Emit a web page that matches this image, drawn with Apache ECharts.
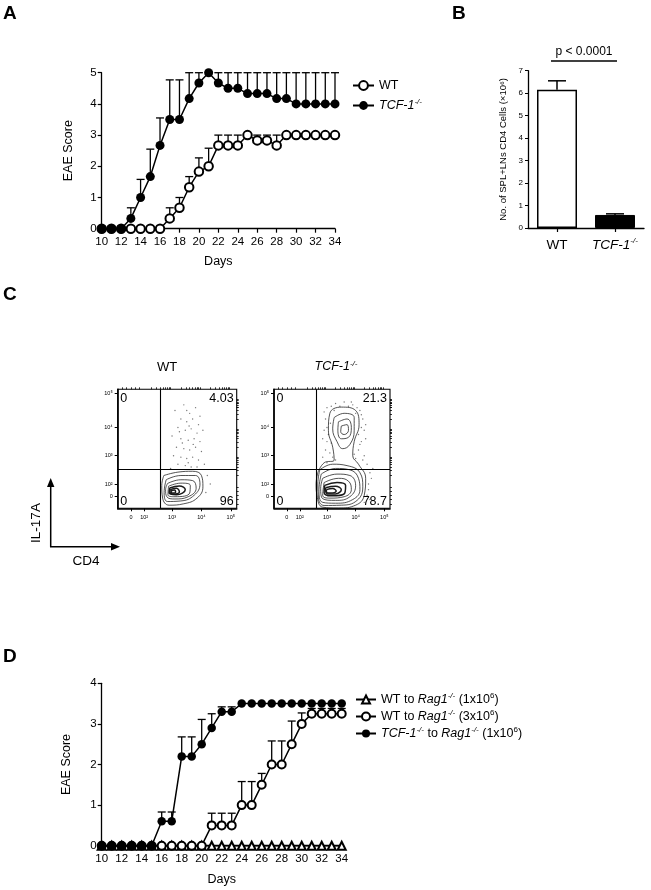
<!DOCTYPE html>
<html><head><meta charset="utf-8">
<script src="https://cdn.jsdelivr.net/npm/echarts@6/dist/echarts.min.js"></script>
<style>html,body{margin:0;padding:0;background:#fff}#c{width:651px;height:890px}</style>
</head><body><div id="c"></div>
<script>
const FONT = '"Liberation Sans", Arial, Helvetica, sans-serif';

// ---------- Panel A data ----------
const daysA = [10,11,12,13,14,15,16,17,18,19,20,21,22,23,24,25,26,27,28,29,30,31,32,33,34];
const aWT    = [0,0,0,0,0,0,0,0.33,0.67,1.33,1.83,2.0,2.67,2.67,2.67,3.0,2.83,2.83,2.67,3,3,3,3,3,3];
const aWTHi  = [null,null,null,null,null,null,null,0.67,1.0,1.67,2.27,2.58,3,3,3,null,3,3,3,null,null,null,null,null,null];
const aTCF   = [0,0,0,0.33,1.0,1.67,2.67,3.5,3.5,4.17,4.67,5.0,4.67,4.5,4.5,4.33,4.33,4.33,4.17,4.17,4,4,4,4,4];
const aTCFHi = [null,null,null,0.67,1.58,2.55,3.55,4.77,4.77,5,5,null,5,5,5,5,5,5,5,5,5,5,5,5,5];

// ---------- Panel B data ----------
const bCats = ['WT', 'TCF-1'];
const bVals = [6.15, 0.58];
const bHi   = [6.55, 0.63];
const bPText = 'p < 0.0001';

// ---------- Panel C data (display units: decades of a logicle scale) ----------
const cTickPosX = [1.6, 2.05, 3, 4, 5];
const cTickPosY = [1.55, 2, 3, 4, 5.2];
const cTickLbl  = ['0', '10²', '10³', '10⁴', '10⁵'];
const cGateX = 2.61, cGateY = 2.52;
const cQuadWT  = ['0', '4.03', '0', '96'];
const cQuadTCF = ['0', '21.3', '0', '78.7'];
const wtContours = [
  [[2.72,2.3],[3.2,2.42],[3.7,2.45],[4.0,2.3],[4.05,1.9],[3.85,1.5],[3.4,1.3],[2.9,1.25],[2.68,1.5],[2.65,1.95],[2.72,2.3]],
  [[2.8,2.15],[3.3,2.3],[3.8,2.3],[3.95,2.0],[3.75,1.6],[3.3,1.4],[2.85,1.38],[2.73,1.7],[2.8,2.15]],
  [[2.85,2.02],[3.3,2.15],[3.7,2.12],[3.82,1.85],[3.55,1.55],[3.1,1.47],[2.82,1.55],[2.78,1.8],[2.85,2.02]],
  [[2.88,1.92],[3.3,2.03],[3.62,1.95],[3.6,1.68],[3.1,1.55],[2.86,1.62],[2.88,1.92]],
  [[2.92,1.86],[3.25,1.93],[3.45,1.8],[3.15,1.62],[2.9,1.68],[2.92,1.86]],
  [[2.94,1.8],[3.15,1.85],[3.25,1.72],[3.02,1.65],[2.93,1.72],[2.94,1.8]],
  [[2.97,1.76],[3.08,1.79],[3.12,1.71],[3.0,1.68],[2.97,1.76]]
];
const wtDots = [[3.1,4.6],[3.4,4.8],[3.6,4.5],[3.8,4.7],[3.3,4.3],[3.5,4.2],[3.7,4.3],[3.9,4.1],[3.2,4.0],[3.45,3.9],[3.65,3.95],[3.85,3.8],[4.05,3.9],[3.0,3.7],[3.3,3.6],[3.55,3.55],[3.75,3.6],[3.95,3.5],[3.15,3.3],[3.4,3.25],[3.6,3.2],[3.8,3.3],[4.0,3.15],[3.05,3.0],[3.3,2.95],[3.5,2.9],[3.7,2.95],[3.9,2.85],[4.1,2.7],[3.2,2.7],[3.45,2.65],[3.65,2.6],[3.85,2.6],[2.95,2.55],[4.2,2.3],[4.3,2.0],[4.15,1.7],[3.58,4.05],[3.35,3.45],[3.72,3.4],[3.55,2.75],[3.25,3.85],[3.95,4.4],[3.5,4.6]];
const tcfContours = [
  [[2.68,2.4],[2.9,2.75],[3.25,2.85],[3.2,3.3],[3.05,3.9],[3.1,4.5],[3.5,4.72],[4.0,4.6],[4.12,4.1],[3.95,3.5],[3.9,3.0],[4.1,2.7],[4.35,2.2],[4.3,1.6],[4.0,1.25],[3.4,1.15],[2.85,1.18],[2.65,1.6],[2.62,2.0],[2.68,2.4]],
  [[3.25,4.35],[3.6,4.5],[3.95,4.35],[3.95,3.9],[3.8,3.4],[3.55,3.25],[3.35,3.5],[3.2,3.95],[3.25,4.35]],
  [[3.4,4.2],[3.7,4.3],[3.85,4.0],[3.75,3.65],[3.5,3.6],[3.38,3.9],[3.4,4.2]],
  [[3.5,4.05],[3.7,4.1],[3.75,3.9],[3.6,3.75],[3.48,3.85],[3.5,4.05]],
  [[2.75,2.5],[3.2,2.7],[3.7,2.65],[4.15,2.4],[4.25,1.9],[4.05,1.42],[3.5,1.25],[2.9,1.24],[2.7,1.5],[2.68,2.0],[2.75,2.5]],
  [[2.8,2.35],[3.3,2.55],[3.8,2.5],[4.1,2.2],[4.15,1.8],[3.9,1.45],[3.3,1.32],[2.85,1.35],[2.72,1.8],[2.8,2.35]],
  [[2.85,2.2],[3.35,2.35],[3.8,2.3],[4.0,1.95],[3.8,1.55],[3.3,1.42],[2.85,1.48],[2.78,1.85],[2.85,2.2]],
  [[2.9,2.05],[3.4,2.2],[3.75,2.1],[3.85,1.8],[3.6,1.55],[3.1,1.5],[2.85,1.6],[2.9,2.05]],
  [[2.92,1.95],[3.35,2.05],[3.65,1.95],[3.6,1.65],[3.15,1.58],[2.9,1.7],[2.92,1.95]],
  [[2.95,1.87],[3.3,1.92],[3.5,1.8],[3.3,1.65],[3.0,1.65],[2.95,1.87]],
  [[2.98,1.8],[3.2,1.84],[3.32,1.75],[3.12,1.68],[2.98,1.72],[2.98,1.8]]
];
const tcfDots = [[3.0,4.7],[3.3,4.85],[3.6,4.9],[3.9,4.8],[4.15,4.6],[2.95,4.3],[4.25,4.3],[4.3,3.9],[2.9,3.9],[3.0,3.5],[4.2,3.5],[4.1,3.2],[3.1,3.1],[2.95,3.2],[4.3,3.0],[4.0,2.9],[3.2,2.95],[4.4,2.7],[4.5,2.4],[4.45,2.0],[4.4,1.6],[4.3,1.35],[2.9,4.55],[3.15,4.75],[3.45,4.75],[3.75,4.75],[4.05,4.7],[4.2,4.45],[4.35,4.1],[4.1,3.75],[4.15,3.4],[3.05,3.75],[2.85,3.6],[3.15,3.45],[3.95,3.05],[4.25,2.85],[3.3,2.85],[2.85,2.95],[4.55,2.2],[4.45,1.8],[3.12,4.15],[3.0,4.0],[4.2,4.0],[4.0,4.5],[3.85,4.9],[3.25,4.6],[4.35,3.6],[3.0,2.75],[4.6,2.55],[4.5,1.45]];

// ---------- Panel D data ----------
const daysD = [10,11,12,13,14,15,16,17,18,19,20,21,22,23,24,25,26,27,28,29,30,31,32,33,34];
const dTri    = [0,0,0,0,0,0,0,0,0,0,0,0,0,0,0,0,0,0,0,0,0,0,0,0,0];
const dOpen   = [0,0,0,0,0,0,0,0,0,0,0,0.5,0.5,0.5,1.0,1.0,1.5,2.0,2.0,2.5,3.0,3.25,3.25,3.25,3.25];
const dOpenHi = [null,null,null,null,null,null,null,null,null,null,null,0.8,0.8,0.8,1.58,1.58,1.78,2.58,2.58,3.07,3.27,3.38,3.38,3.38,3.38];
const dFill   = [0,0,0,0,0,0,0.6,0.6,2.2,2.2,2.5,2.9,3.3,3.3,3.5,3.5,3.5,3.5,3.5,3.5,3.5,3.5,3.5,3.5,3.5];
const dFillHi = [null,null,null,null,null,null,0.83,0.83,2.68,2.68,3.11,3.25,3.42,3.42,null,null,null,null,null,null,null,null,null,null,null];

// ---------- helpers ----------
const pairs = (xs, ys) => xs.map((x, i) => [x, ys[i]]);
const errData = (xs, ys, hi) => xs.map((x, i) => hi[i] == null ? null : [x, ys[i], hi[i]]).filter(Boolean);
function errRender(half, lw) {
  return function (params, api) {
    const p0 = api.coord([api.value(0), api.value(1)]);
    const p1 = api.coord([api.value(0), api.value(2)]);
    return { type: 'group', children: [
      { type: 'line', shape: { x1: p0[0], y1: p0[1], x2: p1[0], y2: p1[1] }, style: { stroke: '#000', lineWidth: lw } },
      { type: 'line', shape: { x1: p1[0] - half, y1: p1[1], x2: p1[0] + half, y2: p1[1] }, style: { stroke: '#000', lineWidth: lw } }
    ]};
  };
}
const rich = {
  n: { fontFamily: FONT, fontSize: 12.5, color: '#000', lineHeight: 15 },
  i: { fontFamily: FONT, fontSize: 12.5, fontStyle: 'italic', color: '#000', lineHeight: 15 },
  s: { fontFamily: FONT, fontSize: 8, fontStyle: 'italic', color: '#000', verticalAlign: 'top', lineHeight: 9 },
  u: { fontFamily: FONT, fontSize: 8, color: '#000', verticalAlign: 'top', lineHeight: 9 }
};
const axisLine = { show: true, lineStyle: { color: '#000', width: 1.3 } };
const axisTick = { show: true, length: 4, lineStyle: { color: '#000', width: 1.2 } };
const lbl = (size, margin) => ({ color: '#000', fontFamily: FONT, fontSize: size, margin: margin });

// minor tick positions (axis decoration, log spacing)
const minorPos = [];
for (const d of [2, 3, 4]) for (let k = 2; k <= 9; k++) minorPos.push(d + Math.log10(k));
[1.3, 1.45, 1.6, 1.75, 1.9].forEach(v => minorPos.push(v));

const G = {
  A: { left: 101.7, top: 72.7, width: 233.3, height: 156 },
  B: { left: 528, top: 70.7, width: 116, height: 157.3 },
  CW: { left: 117.7, top: 389.3, width: 119, height: 119 },
  CT: { left: 274, top: 389.3, width: 116, height: 119 },
  D: { left: 101.7, top: 683.3, width: 240, height: 162.4 }
};
const cXmin = 1.15, cXmax = 5.2, cYmin = 1.14, cYmax = 5.35;

function cAxesX(idx) {
  return [
    { gridIndex: idx, type: 'value', min: cXmin, max: cXmax, axisLine: { show: true, lineStyle: { color: '#000', width: 1.6 } },
      axisTick: { show: true, length: 3, customValues: cTickPosX, lineStyle: { color: '#000', width: 1 } },
      axisLabel: { show: true, customValues: cTickPosX, formatter: v => cTickLbl[cTickPosX.indexOf(v)] ?? '', color: '#000', fontFamily: FONT, fontSize: 5.5, margin: 6 },
      splitLine: { show: false } },
    { gridIndex: idx, type: 'value', min: cXmin, max: cXmax, axisLine: { show: false },
      axisTick: { show: true, length: 2, customValues: minorPos, lineStyle: { color: '#000', width: 0.8 } },
      axisLabel: { show: false }, splitLine: { show: false } }
  ];
}
function cAxesY(idx) {
  return [
    { gridIndex: idx, type: 'value', min: cYmin, max: cYmax, axisLine: { show: true, lineStyle: { color: '#000', width: 1.6 } },
      axisTick: { show: true, length: 3, customValues: cTickPosY, lineStyle: { color: '#000', width: 1 } },
      axisLabel: { show: true, customValues: cTickPosY, formatter: v => cTickLbl[cTickPosY.indexOf(v)] ?? '', color: '#000', fontFamily: FONT, fontSize: 5.5, margin: 5 },
      splitLine: { show: false } },
    { gridIndex: idx, type: 'value', min: cYmin, max: cYmax, axisLine: { show: false },
      axisTick: { show: true, length: 2, customValues: minorPos.concat([4.7, 4.85, 5.0]), lineStyle: { color: '#000', width: 0.8 } },
      axisLabel: { show: false }, splitLine: { show: false } }
  ];
}

const xAxis = [
  { gridIndex: 0, type: 'value', min: 10, max: 34, interval: 2, axisLine, axisTick, axisLabel: lbl(11.5, 7), splitLine: { show: false },
    name: 'Days', nameLocation: 'middle', nameGap: 26, nameTextStyle: { color: '#000', fontFamily: FONT, fontSize: 12.5 } },
  { gridIndex: 1, type: 'category', data: bCats, axisLine, axisTick: { show: true, length: 4, alignWithLabel: true, interval: 0, lineStyle: { color: '#000', width: 1.2 } },
    axisLabel: { margin: 9, interval: 0, hideOverlap: false, formatter: v => v === 'WT' ? '{b|WT}' : '{bi|TCF-1}{s|-/-}',
      rich: { b: { fontFamily: FONT, fontSize: 13.5, color: '#000', lineHeight: 16 }, bi: { fontFamily: FONT, fontSize: 13.5, fontStyle: 'italic', color: '#000', lineHeight: 16 }, s: { fontFamily: FONT, fontSize: 8, fontStyle: 'italic', color: '#000', verticalAlign: 'top', lineHeight: 9 } } } },
  ...cAxesX(2), ...cAxesX(3),
  { gridIndex: 4, type: 'value', min: 10, max: 34, interval: 2, axisLine, axisTick, axisLabel: lbl(11.5, 7), splitLine: { show: false },
    name: 'Days', nameLocation: 'middle', nameGap: 27, nameTextStyle: { color: '#000', fontFamily: FONT, fontSize: 12.5 } }
];
const yAxis = [
  { gridIndex: 0, type: 'value', min: 0, max: 5, interval: 1, axisLine, axisTick, axisLabel: lbl(11.5, 5), splitLine: { show: false },
    name: 'EAE Score', nameLocation: 'middle', nameGap: 27, nameTextStyle: { color: '#000', fontFamily: FONT, fontSize: 12.5 } },
  { gridIndex: 1, type: 'value', min: 0, max: 7, interval: 1, axisLine, axisTick: { show: true, length: 3, lineStyle: { color: '#000', width: 1 } }, axisLabel: lbl(8, 5), splitLine: { show: false },
    name: 'No. of SPL+LNs CD4 Cells (×10⁶)', nameLocation: 'middle', nameGap: 20, nameTextStyle: { color: '#000', fontFamily: FONT, fontSize: 9.5 } },
  ...cAxesY(2), ...cAxesY(3),
  { gridIndex: 4, type: 'value', min: 0, max: 4, interval: 1, axisLine, axisTick, axisLabel: lbl(11.5, 5), splitLine: { show: false },
    name: 'EAE Score', nameLocation: 'middle', nameGap: 29, nameTextStyle: { color: '#000', fontFamily: FONT, fontSize: 12.5 } }
];

const series = [];
// Panel A
series.push({ type: 'custom', xAxisIndex: 0, yAxisIndex: 0, renderItem: errRender(4, 1.3), data: errData(daysA, aWT, aWTHi), z: 2, clip: false, silent: true });
series.push({ type: 'custom', xAxisIndex: 0, yAxisIndex: 0, renderItem: errRender(4, 1.3), data: errData(daysA, aTCF, aTCFHi), z: 2, clip: false, silent: true });
series.push({ name: 'WT', type: 'line', xAxisIndex: 0, yAxisIndex: 0, data: pairs(daysA, aWT), symbol: 'emptyCircle', symbolSize: 8.5,
  lineStyle: { color: '#000', width: 1.5 }, itemStyle: { color: '#000', borderWidth: 1.2 }, z: 3, clip: false });
series.push({ name: 'TCF-1', type: 'line', xAxisIndex: 0, yAxisIndex: 0, data: pairs(daysA, aTCF), symbol: 'circle', symbolSize: 9,
  lineStyle: { color: '#000', width: 1.5 }, itemStyle: { color: '#000' }, z: 4, clip: false });

// Panel B
series.push({ type: 'bar', xAxisIndex: 1, yAxisIndex: 1, barWidth: 40, z: 2,
  data: bVals.map((v, i) => ({ value: v, itemStyle: i === 0 ? { color: '#fff', borderColor: '#000', borderWidth: 1.5 } : { color: '#000', borderColor: '#000', borderWidth: 1 } })) });
series.push({ type: 'custom', xAxisIndex: 1, yAxisIndex: 1, renderItem: errRender(9, 1.5), data: bVals.map((v, i) => [i, v, bHi[i]]), z: 1, silent: true });

// Panel C
function cSeries(xi, yi, contours, dots) {
  series.push({ type: 'scatter', xAxisIndex: xi, yAxisIndex: yi, data: dots, symbolSize: 1.4, itemStyle: { color: '#555' }, silent: true, z: 2,
    markLine: { silent: true, symbol: 'none', label: { show: false }, lineStyle: { color: '#000', width: 1.1, type: 'solid' },
      data: [{ xAxis: cGateX }, { yAxis: cGateY }] } });
  contours.forEach((c, k) => series.push({ type: 'line', xAxisIndex: xi, yAxisIndex: yi, data: c, symbol: 'none', smooth: 0.45, silent: true, z: 3,
    lineStyle: { color: '#1a1a1a', width: k > contours.length - 4 ? 1.5 : 0.75 } }));
}
cSeries(2, 2, wtContours, wtDots);
cSeries(4, 4, tcfContours, tcfDots);

// Panel D
series.push({ type: 'custom', xAxisIndex: 6, yAxisIndex: 6, renderItem: errRender(4, 1.3), data: errData(daysD, dOpen, dOpenHi), z: 2, clip: false, silent: true });
series.push({ type: 'custom', xAxisIndex: 6, yAxisIndex: 6, renderItem: errRender(4, 1.3), data: errData(daysD, dFill, dFillHi), z: 2, clip: false, silent: true });
series.push({ name: 'D1', type: 'line', xAxisIndex: 6, yAxisIndex: 6, data: pairs(daysD, dTri), symbol: 'emptyTriangle', symbolSize: 8,
  lineStyle: { color: '#000', width: 1.5 }, itemStyle: { color: '#000', borderWidth: 1.1 }, z: 3, clip: false });
series.push({ name: 'D3', type: 'line', xAxisIndex: 6, yAxisIndex: 6, data: pairs(daysD, dOpen), symbol: 'emptyCircle', symbolSize: 8,
  lineStyle: { color: '#000', width: 1.5 }, itemStyle: { color: '#000', borderWidth: 1.2 }, z: 4, clip: false });
series.push({ name: 'DT', type: 'line', xAxisIndex: 6, yAxisIndex: 6, data: pairs(daysD, dFill), symbol: 'circle', symbolSize: 8.5,
  lineStyle: { color: '#000', width: 1.5 }, itemStyle: { color: '#000' }, z: 5, clip: false });

const legendNames = {
  'WT': '{n|WT}',
  'TCF-1': '{i|TCF-1}{s|-/-}',
  'D1': '{n|WT to }{i|Rag1}{s|-/-}{n| (1x10}{u|6}{n|)}',
  'D3': '{n|WT to }{i|Rag1}{s|-/-}{n| (3x10}{u|6}{n|)}',
  'DT': '{i|TCF-1}{s|-/-}{n| to }{i|Rag1}{s|-/-}{n| (1x10}{u|6}{n|)}'
};

// graphics
const T = (text, x, y, opt) => Object.assign({ type: 'text', x, y, style: Object.assign({ text, fill: '#000', font: '12px ' + FONT, textAlign: 'left', textVerticalAlign: 'middle' }, opt || {}) });
const g = [];
g.push(T('A', 3, 14, { font: 'bold 19px ' + FONT }));
g.push(T('B', 452, 14, { font: 'bold 19px ' + FONT }));
g.push(T('C', 3, 295, { font: 'bold 19px ' + FONT }));
g.push(T('D', 3, 657, { font: 'bold 19px ' + FONT }));
g.push({ type: 'line', shape: { x1: 551, y1: 61, x2: 617, y2: 61 }, style: { stroke: '#000', lineWidth: 1.3 } });
g.push(T(bPText, 584, 52, { textAlign: 'center', font: '12px ' + FONT }));
g.push(T('WT', 167, 367, { textAlign: 'center', font: '13px ' + FONT }));
g.push({ type: 'text', x: 336, y: 367, style: { text: '{i|TCF-1}{s|-/-}', rich, textAlign: 'center', textVerticalAlign: 'middle' } });
[[G.CW, cQuadWT], [G.CT, cQuadTCF]].forEach(([b, q]) => {
  g.push(T(q[0], b.left + 2.5, b.top + 9, { font: '12.5px ' + FONT }));
  g.push(T(q[1], b.left + b.width - 3, b.top + 9, { font: '12.5px ' + FONT, textAlign: 'right' }));
  g.push(T(q[2], b.left + 2.5, b.top + b.height - 6.5, { font: '12.5px ' + FONT }));
  g.push(T(q[3], b.left + b.width - 3, b.top + b.height - 6.5, { font: '12.5px ' + FONT, textAlign: 'right' }));
});
g.push({ type: 'polyline', shape: { points: [[50.7, 482], [50.7, 546.7], [116, 546.7]] }, style: { stroke: '#000', lineWidth: 1.5, fill: null } });
g.push({ type: 'polygon', shape: { points: [[50.7, 478], [47, 487], [54.4, 487]] }, style: { fill: '#000' } });
g.push({ type: 'polygon', shape: { points: [[120, 546.7], [111, 543], [111, 550.4]] }, style: { fill: '#000' } });
const il = T('IL-17A', 36.5, 523, { textAlign: 'center', font: '13.5px ' + FONT });
il.rotation = Math.PI / 2;
g.push(il);
g.push(T('CD4', 86, 561, { textAlign: 'center', font: '13.5px ' + FONT }));

const option = {
  animation: false,
  backgroundColor: '#fff',
  textStyle: { fontFamily: FONT },
  grid: [
    Object.assign({}, G.A),
    Object.assign({}, G.B),
    Object.assign({}, G.CW, { show: true, borderColor: '#000', borderWidth: 1.1 }),
    Object.assign({}, G.CT, { show: true, borderColor: '#000', borderWidth: 1.1 }),
    Object.assign({}, G.D)
  ],
  xAxis, yAxis, series,
  legend: [
    { data: ['WT', 'TCF-1'], left: 347, top: 74, orient: 'vertical', itemWidth: 21, itemHeight: 11, itemGap: 6,
      formatter: n => legendNames[n], textStyle: { rich } },
    { data: ['D1', 'D3', 'DT'], left: 350, top: 687, orient: 'vertical', itemWidth: 20, itemHeight: 10, itemGap: 3,
      formatter: n => legendNames[n], textStyle: { rich } }
  ],
  graphic: g
};
const chart = echarts.init(document.getElementById('c'), null, { renderer: 'canvas' });
chart.setOption(option);
</script>
</body></html>
